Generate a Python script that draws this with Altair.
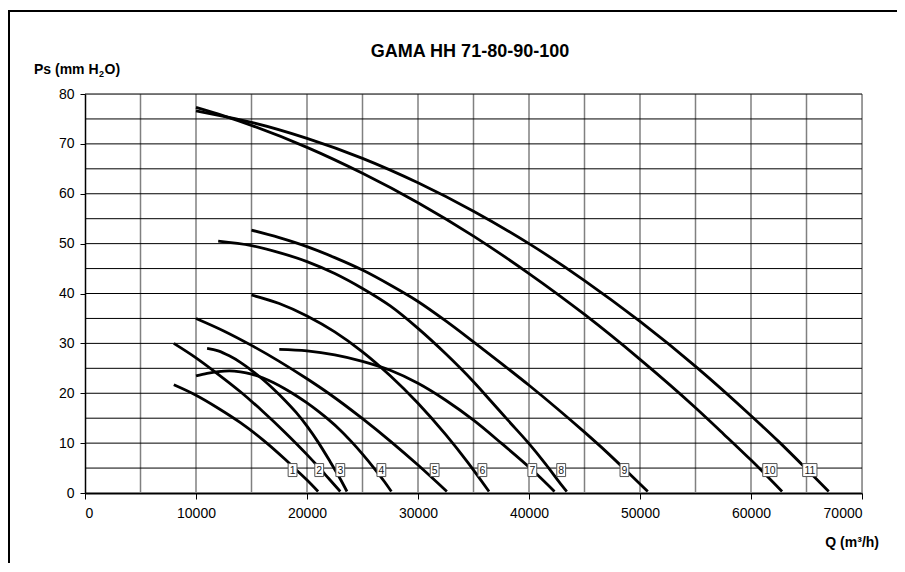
import altair as alt
import pandas as pd

# ---- data ----
curve1_q = [8000, 10000, 12000, 14000, 16000, 18000, 19000, 20000, 21000]
curve1_ps = [21.7, 19.6, 17.0, 14.1, 10.7, 6.8, 4.7, 2.6, 0.3]
curve2_q = [8000, 10000, 12000, 14000, 16000, 18000, 20000, 21000, 22000, 23000]
curve2_ps = [30.0, 27.1, 23.8, 20.3, 16.4, 12.2, 7.7, 5.3, 2.8, 0.3]
curve3_q = [11000, 12000, 13000, 14000, 15000, 16000, 17000, 18000, 19000, 20000, 21000, 22000, 23000, 23600]
curve3_ps = [29.0, 28.5, 27.5, 26.2, 24.6, 22.8, 20.8, 18.6, 16.2, 13.4, 10.2, 6.6, 2.8, 0.3]
curve4_q = [10000, 11000, 12000, 13000, 14000, 15000, 16000, 17000, 18000, 19000, 20000, 21000, 22000, 23000, 24000, 25000, 26000, 27000, 27600]
curve4_ps = [23.5, 24.0, 24.35, 24.5, 24.3, 23.85, 23.1, 22.1, 20.9, 19.55, 18.05, 16.4, 14.6, 12.6, 10.3, 7.8, 5.1, 2.2, 0.3]
curve5_q = [10000, 12500, 15000, 17500, 20000, 22000, 25000, 27500, 30000, 32600]
curve5_ps = [35.0, 32.5, 29.6, 26.4, 22.9, 19.9, 14.9, 10.4, 5.6, 0.3]
curve6_q = [15000, 17500, 20000, 22500, 25000, 27500, 30000, 32500, 34500, 36400]
curve6_ps = [39.7, 38.0, 35.5, 32.3, 28.3, 23.5, 18.0, 11.7, 6.1, 0.3]
curve7_q = [17500, 20000, 22500, 25000, 27500, 30000, 32500, 35000, 37500, 40300, 42300]
curve7_ps = [28.8, 28.5, 27.7, 26.4, 24.6, 22.0, 18.6, 14.6, 10.0, 4.6, 0.3]
curve8_q = [12000, 15000, 17500, 20000, 22500, 25000, 27500, 30000, 32500, 35000, 36500, 38100, 40000, 41500, 42900, 43400]
curve8_ps = [50.5, 49.6, 48.2, 46.4, 44.0, 41.0, 37.5, 33.0, 27.9, 22.3, 18.6, 14.6, 9.9, 5.8, 1.7, 0.3]
curve9_q = [15000, 17500, 20000, 22500, 25000, 27500, 30000, 32500, 35000, 37500, 40000, 42500, 45000, 47000, 48700, 50700]
curve9_ps = [52.7, 51.2, 49.4, 47.2, 44.7, 41.7, 38.4, 34.5, 30.3, 26.0, 21.6, 17.0, 12.2, 8.2, 4.6, 0.3]
curve10_q = [10000, 12500, 15000, 20000, 25000, 30000, 35000, 40000, 45000, 50000, 55000, 57500, 60000, 62800]
curve10_ps = [77.3, 75.6, 73.7, 69.3, 64.1, 58.2, 51.5, 44.0, 35.8, 26.8, 17.1, 11.9, 6.6, 0.3]
curve11_q = [10000, 12500, 15000, 20000, 25000, 30000, 35000, 40000, 45000, 50000, 55000, 60000, 62500, 65000, 67000]
curve11_ps = [76.6, 75.5, 74.3, 71.1, 67.1, 62.2, 56.5, 50.0, 42.6, 34.4, 25.4, 15.5, 10.3, 4.8, 0.3]

label_text = ["1", "2", "3", "4", "5", "6", "7", "8", "9", "10", "11"]
label_q = [18700, 21100, 23000, 26700, 31500, 35800, 40300, 42900, 48600, 61700, 65300]
label_ps = [4.6] * 11

grid_q = list(range(5000, 70001, 5000))
grid_ps = list(range(5, 81, 5))
x_ticks = list(range(0, 70001, 10000))
y_ticks = list(range(0, 81, 10))

title_text = "GAMA HH 71-80-90-100"
x_title = "Q (m\u00b3/h)"

curves = [
    (curve1_q, curve1_ps), (curve2_q, curve2_ps), (curve3_q, curve3_ps),
    (curve4_q, curve4_ps), (curve5_q, curve5_ps), (curve6_q, curve6_ps),
    (curve7_q, curve7_ps), (curve8_q, curve8_ps), (curve9_q, curve9_ps),
    (curve10_q, curve10_ps), (curve11_q, curve11_ps),
]
rows = []
for i, (qs, ps) in enumerate(curves, start=1):
    for j, (q, p) in enumerate(zip(qs, ps)):
        rows.append({"curve": i, "Q": q, "Ps": p, "ord": j})
df = pd.DataFrame(rows)
labels = pd.DataFrame({"t": label_text, "Q": label_q, "Ps": label_ps})
labels["two"] = labels["t"].str.len() > 1

W, H = 777, 399
xs = alt.Scale(domain=[0, 70000], nice=False, zero=False)
ys = alt.Scale(domain=[0, 80], nice=False, zero=False)

xgrid = alt.Chart(pd.DataFrame({"Q": grid_q})).mark_rule(
    color="#808080", strokeWidth=1.5
).encode(x=alt.X("Q:Q", scale=xs))
ygrid = alt.Chart(pd.DataFrame({"Ps": grid_ps})).mark_rule(
    color="#000000", strokeWidth=1
).encode(y=alt.Y("Ps:Q", scale=ys))

lines = alt.Chart(df).mark_line(
    color="black", strokeWidth=2.8, interpolate="monotone", strokeCap="butt"
).encode(
    x=alt.X("Q:Q", scale=xs, axis=alt.Axis(
        values=x_ticks, format="d", grid=False, title=None,
        labelFontSize=14, labelColor="#000", labelPadding=7,
        tickSize=6, tickColor="#000", tickWidth=1,
        domainColor="#000", domainWidth=2)),
    y=alt.Y("Ps:Q", scale=ys, axis=alt.Axis(
        values=y_ticks, format="d", grid=False, title=None,
        labelFontSize=14, labelColor="#000", labelPadding=6,
        tickSize=5, tickColor="#000", tickWidth=1,
        domainColor="#000", domainWidth=1.5)),
    detail="curve:N",
    order="ord:Q",
)

box1 = alt.Chart(labels).transform_filter("!datum.two").mark_point(
    shape="M-0.68,-1H0.68V1H-0.68Z", size=169, filled=True,
    fill="white", stroke="#555555", strokeWidth=1, opacity=1
).encode(x=alt.X("Q:Q", scale=xs), y=alt.Y("Ps:Q", scale=ys))
box2 = alt.Chart(labels).transform_filter("datum.two").mark_point(
    shape="M-1.1,-1H1.1V1H-1.1Z", size=169, filled=True,
    fill="white", stroke="#555555", strokeWidth=1, opacity=1
).encode(x=alt.X("Q:Q", scale=xs), y=alt.Y("Ps:Q", scale=ys))
ltext = alt.Chart(labels).mark_text(
    fontSize=10.5, color="#222", baseline="middle", align="center", dy=0.5
).encode(x=alt.X("Q:Q", scale=xs), y=alt.Y("Ps:Q", scale=ys), text="t:N")

title = alt.Chart(pd.DataFrame({"t": [title_text]})).mark_text(
    fontSize=18, fontWeight="bold", align="center", baseline="middle"
).encode(x=alt.value(385), y=alt.value(-42), text="t:N")

ytitle_a = alt.Chart(pd.DataFrame({"t": ["Ps (mm H"]})).mark_text(
    fontSize=14, fontWeight="bold", align="left", baseline="middle"
).encode(x=alt.value(-51), y=alt.value(-24), text="t:N")
ytitle_b = alt.Chart(pd.DataFrame({"t": ["2"]})).mark_text(
    fontSize=9, fontWeight="bold", align="left", baseline="middle"
).encode(x=alt.value(14), y=alt.value(-20), text="t:N")
ytitle_c = alt.Chart(pd.DataFrame({"t": ["O)"]})).mark_text(
    fontSize=14, fontWeight="bold", align="left", baseline="middle"
).encode(x=alt.value(19.5), y=alt.value(-24), text="t:N")

xtitle = alt.Chart(pd.DataFrame({"t": [x_title]})).mark_text(
    fontSize=14, fontWeight="bold", align="right", baseline="middle"
).encode(x=alt.value(794), y=alt.value(50 + H), text="t:N")

frame_top = alt.Chart(pd.DataFrame({"a": [0]})).mark_rule(
    color="black", strokeWidth=2
).encode(x=alt.value(-77), x2=alt.value(812), y=alt.value(-83))
frame_left = alt.Chart(pd.DataFrame({"a": [0]})).mark_rule(
    color="black", strokeWidth=2
).encode(x=alt.value(-76), y=alt.value(-84), y2=alt.value(H + 80))

chart = alt.layer(
    xgrid, ygrid, lines, box1, box2, ltext, title,
    ytitle_a, ytitle_b, ytitle_c, xtitle, frame_top, frame_left
).properties(
    width=W, height=H,
    autosize=alt.AutoSizeParams(type="none"),
    padding={"left": 77, "top": 86, "right": 35, "bottom": 70},
).configure_view(
    stroke="#000", strokeWidth=1
).configure(
    font="Liberation Sans"
)

chart.save("out.html", embed_options={"renderer": "svg", "actions": False})
